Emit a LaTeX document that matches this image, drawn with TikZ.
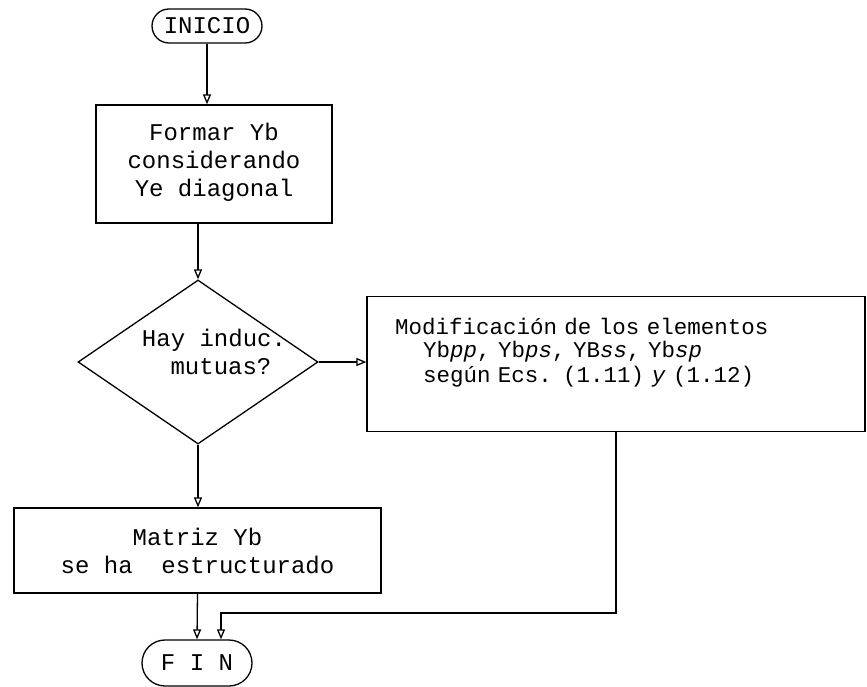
\documentclass[tikz,border=0pt]{standalone}
\usepackage{fontspec}
\newfontfamily\maquina[WordSpace={1,0,0}]{Liberation Mono}
\usetikzlibrary{arrows.meta,shapes.geometric,shapes.misc}

\begin{document}
\begin{tikzpicture}[x=1pt,y=-1pt]
    \tikzstyle{texto}=[font=\maquina\fontsize{24}{28}\selectfont]
    \tikzstyle{caja}=[texto,draw,line width=1.3pt,rectangle,align=center,inner sep=0pt]
    \tikzstyle{terminal}=[texto,draw,line width=1.3pt,rounded rectangle,inner sep=0pt]
    \tikzstyle{flecha}=[line width=1.3pt,-{Triangle[open,length=10pt,width=8pt]}]
    \useasboundingbox (0,0) rectangle (867,687);
    % Nodes
    \node[terminal,minimum width=110,minimum height=34] (inicio) at (207,26) {INICIO};
    \node[caja,minimum width=236,minimum height=118] (formar) at (214,164)
        {\mbox{}\\[-14pt]Formar Yb\\considerando\\Ye diagonal};
    \node[draw,line width=1.3pt,diamond,minimum width=240,minimum height=164,
        inner sep=0pt] (mutuas) at (198,362) {};
    \node[texto,align=center] (pregunta) at (214,352)
        {Hay induc.\\\hspace*{14pt}mutuas?};
    \node[caja,minimum width=498,minimum height=135,text width=442,inner xsep=28pt,
        align=left,font=\maquina\fontsize{22.5}{23}\selectfont] (modif) at (616,364)
        {Modificación de los elementos\\
         \hspace*{28pt}Yb\textit{pp}, Yb\textit{ps}, YB\textit{ss}, Yb\textit{sp}\\[2pt]
         \hspace*{28pt}según Ecs. (1.11) \textit{y} (1.12)\\[4pt]\mbox{}};
    \node[caja,minimum width=367,minimum height=85] (matriz) at (197.5,550.5)
        {Matriz Yb\\se ha\ \ estructurado};
    \node[terminal,minimum width=110,minimum height=46] (fin) at (197,663) {F I N};
    \coordinate (codo) at (221,613);
    % Lines
    \draw[flecha] (inicio.south) -- (inicio.south |- formar.north);
    \draw[flecha] (mutuas.north |- formar.south) -- (mutuas.north);
    \draw[flecha] (mutuas.east) -- (mutuas.east -| modif.west);
    \draw[flecha] (mutuas.south) -- (mutuas.south |- matriz.north);
    \draw[flecha] (matriz.south) -- (fin.north);
    \draw[flecha] (modif.south) |- (codo) -- (codo |- fin.north);
\end{tikzpicture}
\end{document}
